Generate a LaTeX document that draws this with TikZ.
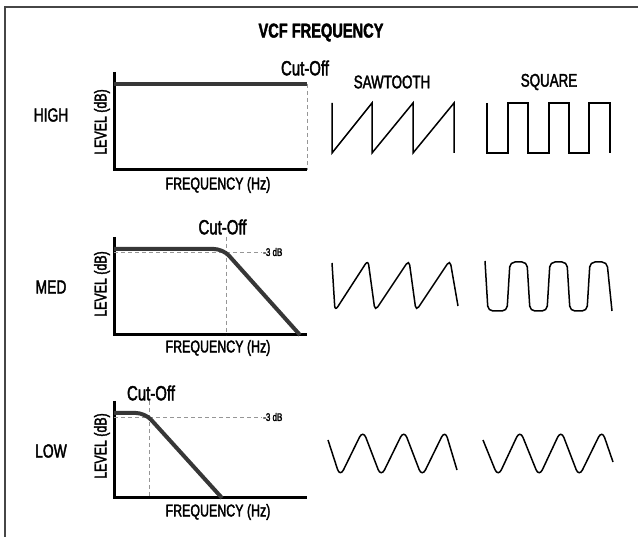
\documentclass[tikz,border=0pt]{standalone}
\usepackage{fontspec}
\setmainfont[FakeStretch=0.73, FakeBold=2]{Liberation Sans}
\newfontfamily\titlefont[FakeStretch=0.73, FakeBold=2]{Liberation Sans Bold}
\usetikzlibrary{positioning, calc}
\definecolor{framegray}{RGB}{70, 70, 70}
\definecolor{respgray}{RGB}{55, 55, 55}
\definecolor{guidegray}{RGB}{150, 150, 150}

\begin{document}
\begin{tikzpicture}[x=1pt, y=-1pt,
  axisline/.style={line width=3pt, line join=miter},
  resp/.style={line width=4pt, draw=respgray, rounded corners=9pt},
  guide/.style={draw=guidegray, line width=0.9pt, dash pattern=on 4pt off 3pt},
  wave/.style={line width=1.5pt, line join=miter},
  softwave/.style={line width=1.5pt, rounded corners=5pt},
  title/.style={font=\titlefont\fontsize{20}{22}\selectfont},
  rowname/.style={font=\fontsize{19}{21}\selectfont},
  cutoff/.style={font=\fontsize{20.5}{22}\selectfont},
  wavename/.style={font=\fontsize{18.3}{20}\selectfont},
  axisname/.style={font=\fontsize{17}{19}\selectfont},
  dbmark/.style={font=\fontsize{11}{12}\selectfont, inner sep=0pt}]
  \useasboundingbox (0,0) rectangle (638,537);
  % frame, only top and left edge are shown
  \draw[framegray, line width=1.6pt] (638,7) -- (5,7) -- (5,537);
  \node[title] (title) at (321,32.5) {VCF FREQUENCY};
  \node[wavename] (sawname) at (392,82) {SAWTOOTH};
  \node[wavename] (sqname) at (549,82) {SQUARE};

  % HIGH
  \begin{scope}[shift={(114,170)}]
    \draw[axisline] (0,-98) -- (0,0) -- (193,0);
    \draw[guide] (193,-86) -- (193,0);
    \draw[resp] (0,-86) -- (193,-86);
    \node[rowname] (high) at (-63,-55) {HIGH};
    \node[cutoff] (cutH) at (191,-102) {Cut-Off};
    \node[axisname, rotate=90] (levH) at (-12,-48) {LEVEL (dB)};
    \node[axisname] (freqH) at (104,15) {FREQUENCY (Hz)};
  \end{scope}
  \draw[wave] (332,103) -- (332,153) -- (372,103) -- (372,153) -- (413,103) -- (413,153) -- (454,103) -- (454,153);
  \draw[wave] (487,103) -- (487,153) -- (508,153) -- (508,103) -- (528,103) -- (528,153) -- (549,153) -- (549,103)
    -- (569,103) -- (569,153) -- (589,153) -- (589,103) -- (610,103) -- (610,153);

  % MED
  \begin{scope}[shift={(114,335)}]
    \draw[axisline] (0,-98) -- (0,0) -- (193,0);
    \draw[guide] (112,-98) -- (112,0);
    \draw[guide] (0,-83) -- (148,-83) coordinate (medDb);
    \draw[resp] (0,-86) -- (109,-86) -- (186,0);
    \node[dbmark, right=1pt of medDb] (dbM) {-3 dB};
    \node[rowname] (med) at (-63,-48) {MED};
    \node[cutoff] (cutM) at (108.5,-108) {Cut-Off};
    \node[axisname, rotate=90] (levM) at (-12,-51) {LEVEL (dB)};
    \node[axisname] (freqM) at (104,13) {FREQUENCY (Hz)};
  \end{scope}
  \draw[softwave] (332,263) -- (335,311) -- (368,260) -- (375,311) -- (409,260) -- (416,311) -- (450,260) -- (458,306);
  \draw[softwave] (485,261) -- (488,311) -- (507,311) -- (510,262) -- (527,262) -- (530,311) -- (547,311) -- (550,262)
    -- (567,262) -- (570,311) -- (587,311) -- (590,262) -- (607,262) -- (612,311);

  % LOW
  \begin{scope}[shift={(114,498)}]
    \draw[axisline] (0,-97) -- (0,0) -- (193,0);
    \draw[guide] (35,-97) -- (35,0);
    \draw[guide] (0,-81) -- (148,-81) coordinate (lowDb);
    \draw[resp] (0,-85) -- (31,-85) -- (108,0);
    \node[dbmark, right=1pt of lowDb] (dbL) {-3 dB};
    \node[rowname] (low) at (-63,-47) {LOW};
    \node[cutoff] (cutL) at (37,-105) {Cut-Off};
    \node[axisname, rotate=90] (levL) at (-12,-52) {LEVEL (dB)};
    \node[axisname] (freqL) at (104,14) {FREQUENCY (Hz)};
  \end{scope}
  \draw[softwave, rounded corners=8pt] (328,440) -- (340,477) -- (363,430) -- (381,477) -- (404,430) -- (422,477)
    -- (445,430) -- (457,470);
  \draw[softwave, rounded corners=8pt] (483,440) -- (498,477) -- (520,430) -- (539,477) -- (561,430) -- (579,477)
    -- (602,430) -- (613,462);
\end{tikzpicture}
\end{document}
